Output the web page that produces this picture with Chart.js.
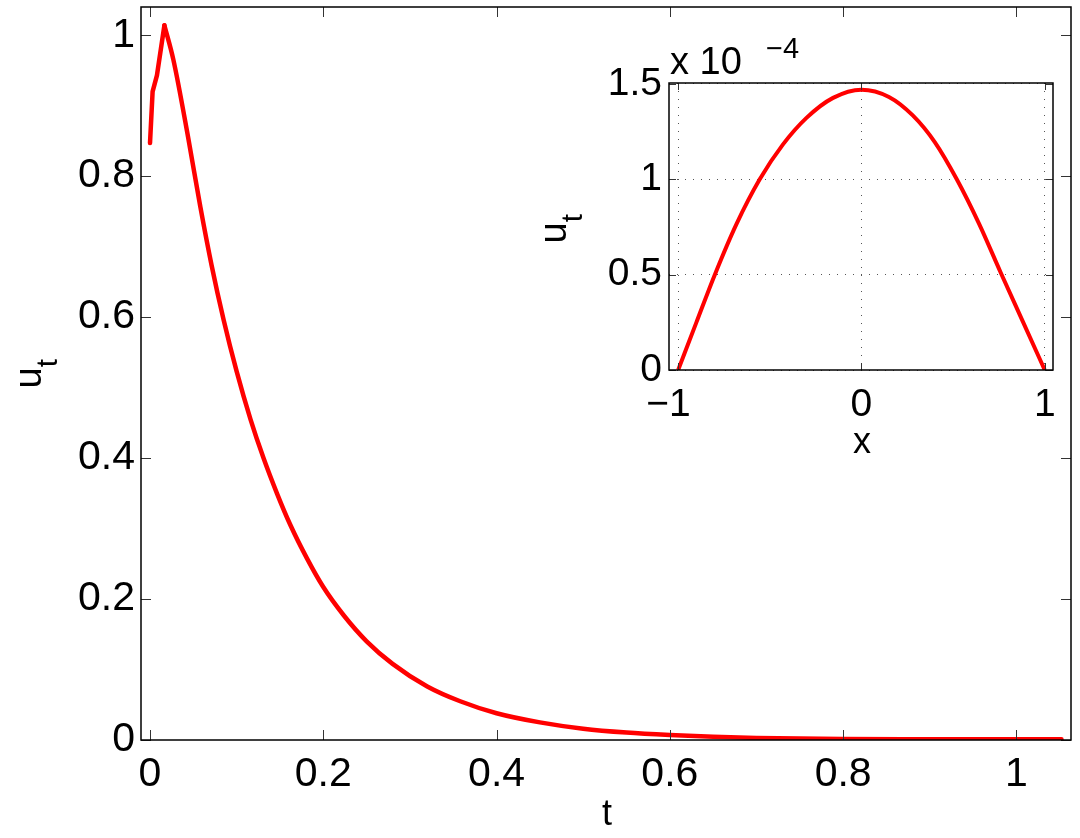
<!DOCTYPE html>
<html>
<head>
<meta charset="utf-8">
<title>u_t</title>
<script src="https://cdn.jsdelivr.net/npm/chart.js@4.4.0/dist/chart.umd.min.js"></script>
<style>
html, body { margin: 0; padding: 0; background: #fff; }
#wrap { position: relative; width: 1080px; height: 838px; }
#wrap canvas { position: absolute; left: 0; top: 0; }
</style>
</head>
<body>
<div id="wrap">
  <canvas id="main" width="1080" height="838"></canvas>
  <canvas id="inset" width="1080" height="838"></canvas>
</div>
<script>
// main plot: u_t against t, start-up part (kinked) up to the peak
var tRise  = [0, 0.003, 0.008, 0.0166];
var utRise = [0.847, 0.92, 0.943, 1.014];
// main plot: decay from the peak on
var tDecay  = [0.0166, 0.027, 0.044, 0.058, 0.071, 0.085, 0.1, 0.116, 0.131, 0.1465, 0.162, 0.181, 0.2, 0.2235, 0.25, 0.28, 0.32, 0.358, 0.4, 0.45, 0.5, 0.55, 0.6, 0.65, 0.7, 0.8, 0.9, 1.0, 1.052];
var utDecay = [1.014, 0.965, 0.855, 0.757, 0.674, 0.596, 0.523, 0.455, 0.4, 0.35, 0.305, 0.258, 0.217, 0.177, 0.14, 0.108, 0.076, 0.055, 0.038, 0.025, 0.016, 0.0105, 0.007, 0.0045, 0.003, 0.0015, 0.0012, 0.0012, 0.0012];
var tTicks = [0, 0.2, 0.4, 0.6, 0.8, 1];
var uTicks = [0, 0.2, 0.4, 0.6, 0.8, 1];

// inset: u_t against x (values in units of 1e-4)
var xIn  = [-1, -0.9, -0.8, -0.682, -0.555, -0.428, -0.3, -0.155, 0, 0.15, 0.28, 0.4, 0.52, 0.64, 0.76, 0.88, 1];
var utIn = [0, 0.251, 0.5, 0.765, 1.0, 1.183, 1.322, 1.427, 1.47, 1.432, 1.335, 1.195, 1.0, 0.77, 0.51, 0.255, 0];
var xInTicks = [-1, 0, 1];
var uInTicks = [0, 0.5, 1, 1.5];

var font = "'Liberation Sans', Arial, Helvetica, sans-serif";

function fmt(v) {
  var s = String(Math.round(v * 10) / 10);
  // matlab puts the minus sign to the left of the tick
  return s.charAt(0) == '-' ? '\u2212' + s.substring(1) + '\u2002' : s;
}

function fixTicks(vals) {
  return function (scale) {
    scale.ticks = vals.map(function (v) { return { value: v }; });
  };
}

function toPoints(xs, ys) {
  return xs.map(function (x, i) { return { x: x, y: ys[i] }; });
}

// box round the plot area with ticks pointing inward on all four sides
var framePlugin = {
  id: 'frame',
  afterDraw: function (chart, args, opts) {
    var a = chart.chartArea, ctx = chart.ctx, len = opts.tick;
    var sx = chart.scales.x, sy = chart.scales.y;
    ctx.save();
    ctx.strokeStyle = opts.tickColor;
    ctx.lineWidth = 1;
    ctx.beginPath();
    sx.ticks.forEach(function (t) {
      var px = Math.round(sx.getPixelForValue(t.value)) + 0.5;
      ctx.moveTo(px, a.bottom); ctx.lineTo(px, a.bottom - len);
      ctx.moveTo(px, a.top); ctx.lineTo(px, a.top + len);
    });
    sy.ticks.forEach(function (t) {
      var py = Math.round(sy.getPixelForValue(t.value)) + 0.5;
      ctx.moveTo(a.left, py); ctx.lineTo(a.left + len, py);
      ctx.moveTo(a.right, py); ctx.lineTo(a.right - len, py);
    });
    ctx.stroke();
    ctx.strokeStyle = '#000';
    ctx.lineWidth = opts.width;
    ctx.strokeRect(a.left, a.top, a.right - a.left, a.bottom - a.top);
    ctx.restore();
  }
};

// rotated "u" with a subscript "t"
function drawUt(ctx, cx, cy, size, subSize, along, drop) {
  ctx.save();
  ctx.translate(cx, cy);
  ctx.rotate(-Math.PI / 2);
  ctx.fillStyle = '#000';
  ctx.textAlign = 'center';
  ctx.textBaseline = 'middle';
  ctx.font = size + 'px ' + font;
  ctx.fillText('u', 0, 0);
  ctx.font = subSize + 'px ' + font;
  ctx.fillText('t', along, drop);
  ctx.restore();
}

var mainTitles = {
  id: 'mainTitles',
  afterDraw: function (chart) {
    var ctx = chart.ctx;
    ctx.save();
    ctx.fillStyle = '#000';
    ctx.font = '36px ' + font;
    ctx.textAlign = 'center';
    ctx.textBaseline = 'alphabetic';
    ctx.fillText('t', 607, 825);
    ctx.restore();
    drawUt(ctx, 31, 378, 38, 30, 15, 18);
  }
};

var insetTitles = {
  id: 'insetTitles',
  afterDraw: function (chart) {
    var ctx = chart.ctx;
    ctx.save();
    ctx.fillStyle = '#000';
    ctx.font = '36px ' + font;
    ctx.textAlign = 'center';
    ctx.textBaseline = 'alphabetic';
    ctx.fillText('x', 862, 453);
    ctx.textAlign = 'left';
    ctx.font = '38px ' + font;
    ctx.fillText('x 10', 670, 74);
    ctx.font = '29px ' + font;
    ctx.fillText('\u22124', 766, 58);
    ctx.restore();
    drawUt(ctx, 556, 233, 38, 30, 15, 18);
  }
};

var tickFont = { family: font, size: 41 };

var redLine = {
  borderColor: '#ff0000',
  borderWidth: 4.5,
  borderCapStyle: 'round',
  borderJoinStyle: 'round',
  pointRadius: 0,
  fill: false
};

new Chart(document.getElementById('main'), {
  type: 'line',
  data: {
    datasets: [
      Object.assign({ data: toPoints(tRise, utRise), tension: 0 }, redLine),
      Object.assign({ data: toPoints(tDecay, utDecay), cubicInterpolationMode: 'monotone' }, redLine)
    ]
  },
  options: {
    responsive: false,
    animation: false,
    devicePixelRatio: 1,
    layout: { padding: { left: 0, top: 7, right: 9, bottom: 0 } },
    plugins: {
      legend: { display: false },
      tooltip: { enabled: false },
      frame: { tick: 10, width: 1.5, tickColor: '#333' }
    },
    scales: {
      x: {
        type: 'linear', min: -0.0104, max: 1.063,
        afterBuildTicks: fixTicks(tTicks),
        afterFit: function (s) { s.height = 98; s.paddingLeft = 0; s.paddingRight = 0; },
        grid: { display: false, drawTicks: false },
        border: { display: false },
        ticks: { padding: 10, color: '#000', font: tickFont, callback: fmt, maxRotation: 0, autoSkip: false }
      },
      y: {
        type: 'linear', min: 0, max: 1.04,
        afterBuildTicks: fixTicks(uTicks),
        afterFit: function (s) { s.width = 141; s.paddingTop = 0; s.paddingBottom = 0; },
        grid: { display: false, drawTicks: false },
        border: { display: false },
        ticks: { padding: 6, color: '#000', font: tickFont, callback: fmt, autoSkip: false }
      }
    }
  },
  plugins: [framePlugin, mainTitles]
});

var insetFont = { family: font, size: 39 };

new Chart(document.getElementById('inset'), {
  type: 'line',
  data: {
    datasets: [{
      data: toPoints(xIn, utIn),
      borderColor: '#ff0000',
      borderWidth: 4,
      pointRadius: 0,
      cubicInterpolationMode: 'monotone',
      fill: false
    }]
  },
  options: {
    responsive: false,
    animation: false,
    devicePixelRatio: 1,
    layout: { padding: { left: 500, top: 83, right: 27, bottom: 368 } },
    plugins: {
      legend: { display: false },
      tooltip: { enabled: false },
      frame: { tick: 7, width: 1.5, tickColor: '#333' }
    },
    scales: {
      x: {
        type: 'linear', min: -1.05, max: 1.045,
        afterBuildTicks: fixTicks(xInTicks),
        afterFit: function (s) { s.height = 100; s.paddingLeft = 0; s.paddingRight = 0; },
        grid: { color: '#555', lineWidth: 1, drawTicks: false },
        border: { display: false, dash: [1, 7] },
        ticks: { padding: 12, color: '#000', font: insetFont, callback: fmt, maxRotation: 0, autoSkip: false }
      },
      y: {
        type: 'linear', min: 0, max: 1.505,
        afterBuildTicks: fixTicks(uInTicks),
        afterFit: function (s) { s.width = 169; s.paddingTop = 0; s.paddingBottom = 0; },
        grid: { color: '#555', lineWidth: 1, drawTicks: false },
        border: { display: false, dash: [1, 7] },
        ticks: { padding: 7, color: '#000', font: insetFont, callback: fmt, autoSkip: false }
      }
    }
  },
  plugins: [framePlugin, insetTitles]
});
</script>
</body>
</html>
